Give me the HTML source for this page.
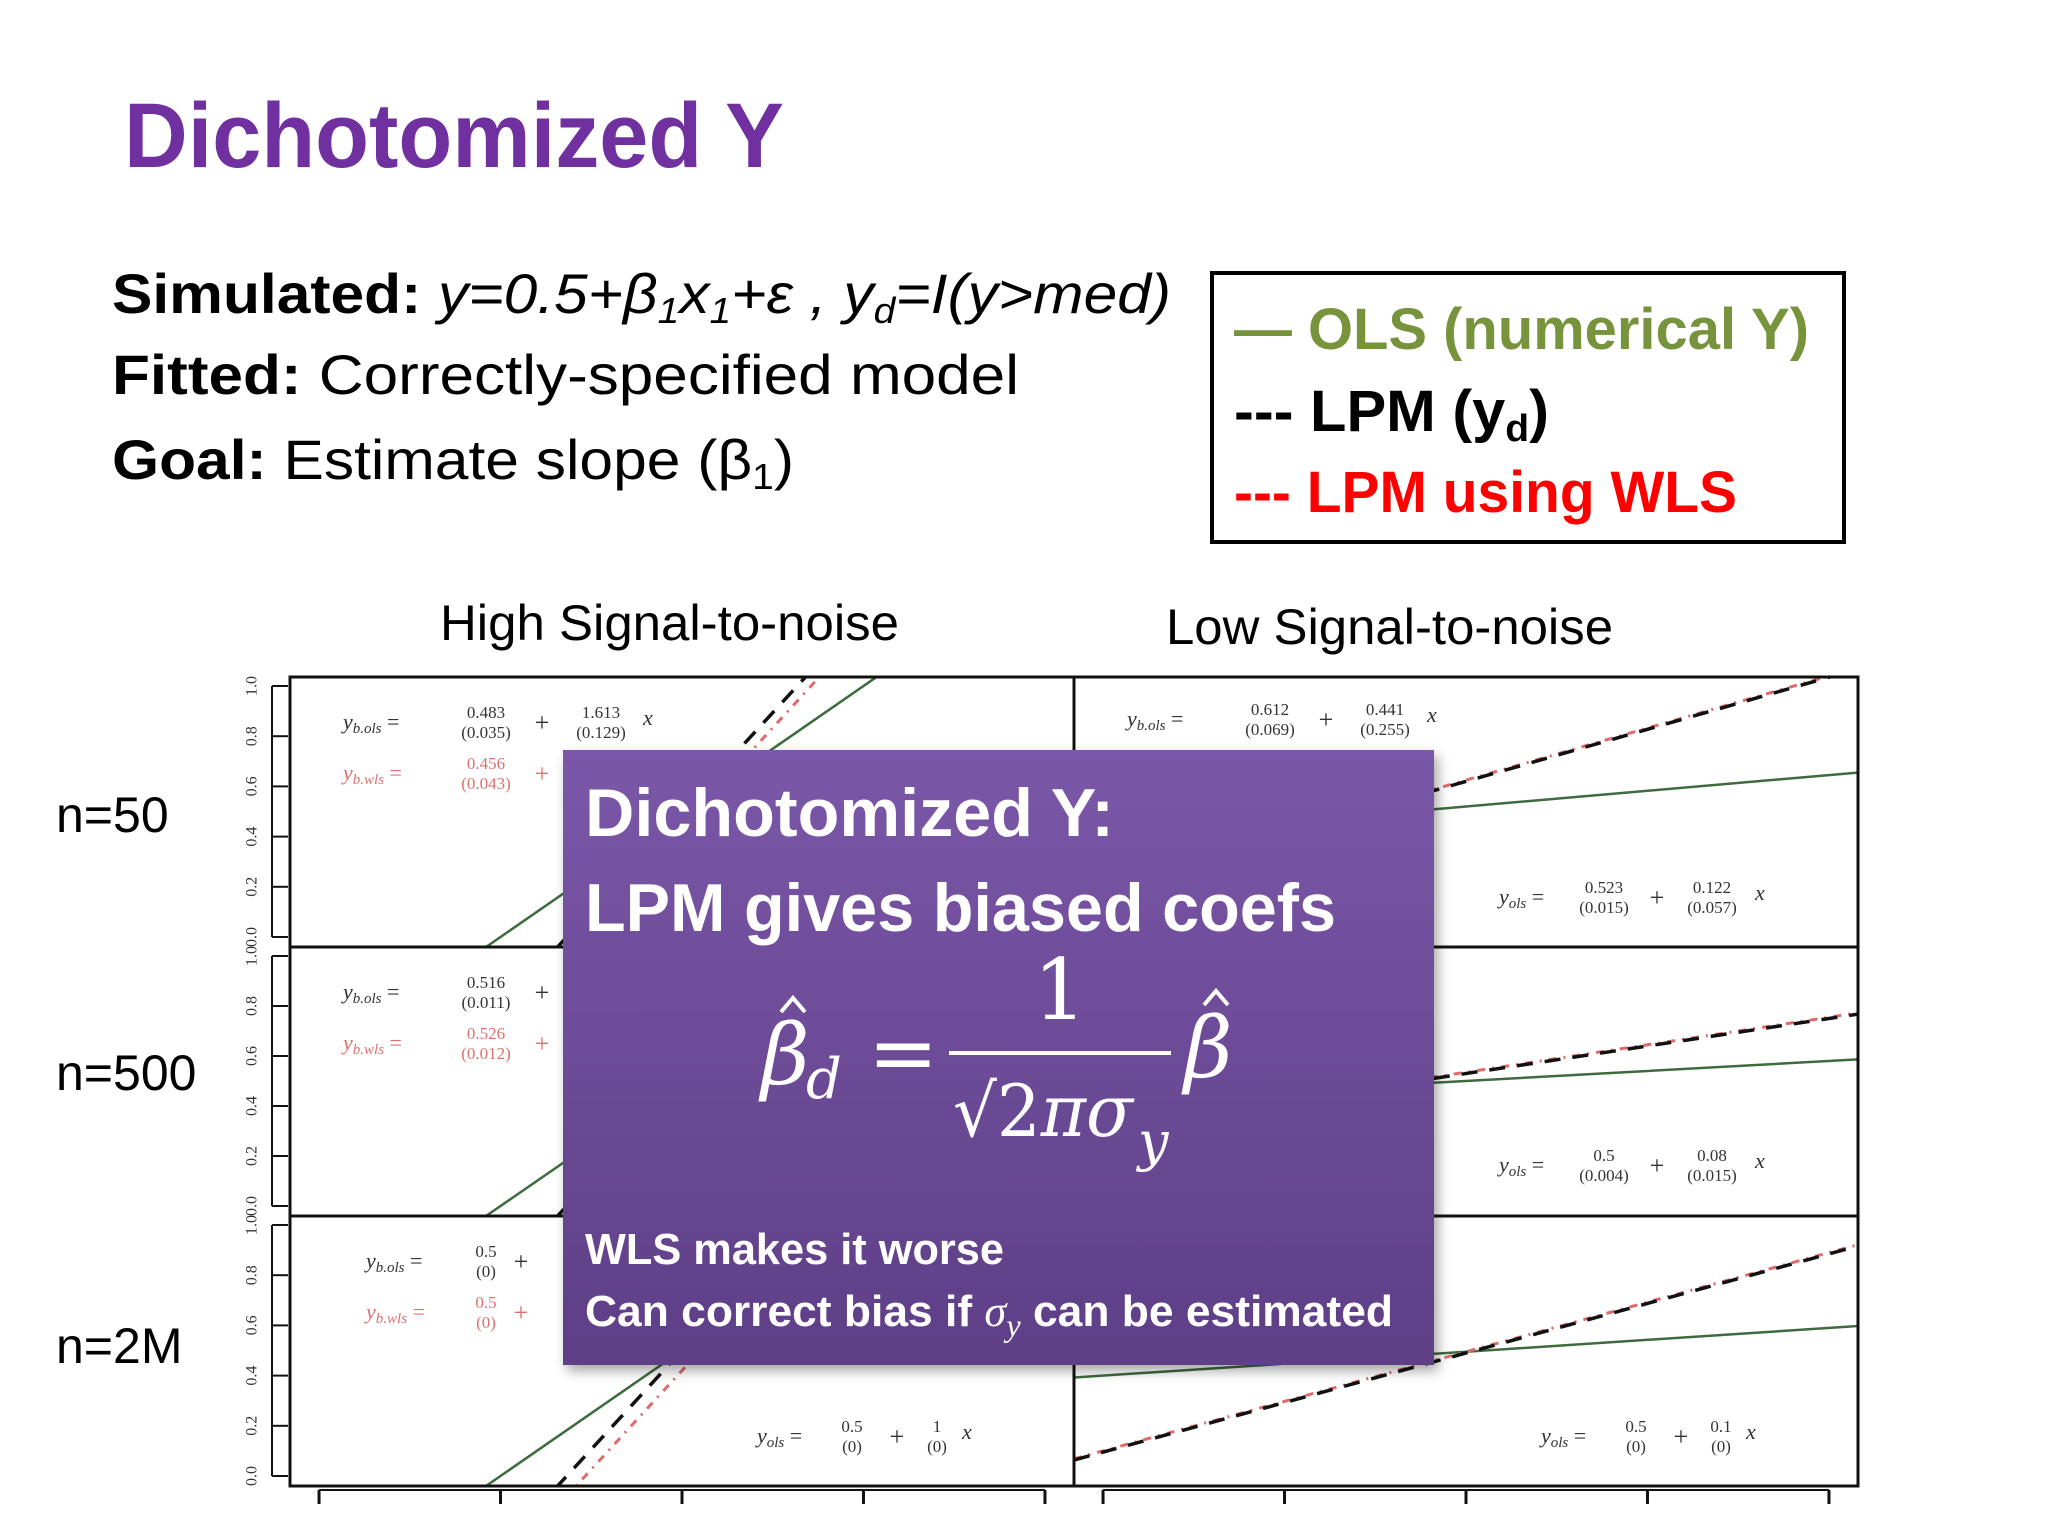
<!DOCTYPE html>
<html><head><meta charset="utf-8"><style>
html,body{margin:0;padding:0;background:#fff;width:2048px;height:1536px;overflow:hidden;}
svg{display:block;}
</style></head><body>
<svg id="s" width="2048" height="1536" viewBox="0 0 2048 1536" xmlns="http://www.w3.org/2000/svg">
<defs>
<linearGradient id="pg" x1="0" y1="0" x2="0" y2="1"><stop offset="0" stop-color="#7b57a8"/><stop offset="1" stop-color="#5e3f86"/></linearGradient>
<filter id="sh" x="-5%" y="-5%" width="115%" height="115%"><feDropShadow dx="4" dy="6" stdDeviation="6" flood-color="#000" flood-opacity="0.35"/></filter>
</defs>
<rect width="2048" height="1536" fill="#fff"/>
<text x="124" y="167" font-family="Liberation Sans, sans-serif" font-weight="bold" font-size="92" fill="#7030a0" textLength="660" lengthAdjust="spacingAndGlyphs">Dichotomized Y</text>
<g font-family="Liberation Sans, sans-serif" font-size="56" fill="#000">
<text x="112" y="313" textLength="1059" lengthAdjust="spacingAndGlyphs"><tspan font-weight="bold">Simulated: </tspan><tspan font-style="italic">y=0.5+β<tspan font-size="36" dy="10">1</tspan><tspan dy="-10">x</tspan><tspan font-size="36" dy="10">1</tspan><tspan dy="-10">+ε , y</tspan><tspan font-size="36" dy="10">d</tspan><tspan dy="-10">=I(y&gt;med)</tspan></tspan></text>
<text x="112" y="394" textLength="907" lengthAdjust="spacingAndGlyphs"><tspan font-weight="bold">Fitted: </tspan>Correctly-specified model</text>
<text x="112" y="479" textLength="682" lengthAdjust="spacingAndGlyphs"><tspan font-weight="bold">Goal: </tspan>Estimate slope (β<tspan font-size="36" dy="10">1</tspan><tspan dy="-10">)</tspan></text>
</g>
<g>
<rect x="1212" y="273" width="632" height="269" fill="#fff" stroke="#000" stroke-width="4"/>
<g font-family="Liberation Sans, sans-serif" font-weight="bold" font-size="58">
<text x="1234" y="349" fill="#77933c" textLength="575" lengthAdjust="spacingAndGlyphs">— OLS (numerical Y)</text>
<text x="1234" y="431" fill="#000" textLength="315" lengthAdjust="spacingAndGlyphs">--- LPM (y<tspan font-size="38" dy="10">d</tspan><tspan dy="-10">)</tspan></text>
<text x="1234" y="512" fill="#ff0000" textLength="503" lengthAdjust="spacingAndGlyphs">--- LPM using WLS</text>
</g></g>
<g font-family="Liberation Sans, sans-serif" font-size="50" fill="#000">
<text x="440" y="640" textLength="459" lengthAdjust="spacingAndGlyphs">High Signal-to-noise</text>
<text x="1166" y="644" textLength="447" lengthAdjust="spacingAndGlyphs">Low Signal-to-noise</text>
<text x="56" y="832">n=50</text>
<text x="56" y="1090">n=500</text>
<text x="56" y="1363">n=2M</text>
</g>
<g id="chart"></g>
<g>
<rect x="563" y="750" width="871" height="615" fill="url(#pg)" filter="url(#sh)"/>
<g font-family="Liberation Sans, sans-serif" font-weight="bold" fill="#fff">
<text x="585" y="836" font-size="68" textLength="529" lengthAdjust="spacingAndGlyphs">Dichotomized Y:</text>
<text x="585" y="931" font-size="68" textLength="751" lengthAdjust="spacingAndGlyphs">LPM gives biased coefs</text>
<text x="585" y="1264" font-size="44" textLength="419" lengthAdjust="spacingAndGlyphs">WLS makes it worse</text>
<text x="585" y="1326" font-size="44" textLength="808" lengthAdjust="spacingAndGlyphs">Can correct bias if <tspan font-family="Liberation Serif, serif" font-style="italic" font-weight="normal">σ</tspan><tspan font-family="Liberation Serif, serif" font-style="italic" font-weight="normal" font-size="32" dy="10">y</tspan><tspan dy="-10"> can be estimated</tspan></text>
</g>
<g font-family="DejaVu Serif, Liberation Serif, serif" font-style="italic" fill="#fff" font-weight="normal">
<text x="761" y="1084" font-size="84">β</text>
<polyline points="781,1012 793,998 805,1012" fill="none" stroke="#fff" stroke-width="4"/>
<text x="806" y="1098" font-size="56">d</text>
<text x="868" y="1082" font-size="84" font-style="normal">=</text>
<text x="1060" y="1019" font-size="84" font-style="normal" text-anchor="middle">1</text>
<rect x="949" y="1051" width="222" height="4" fill="#fff"/>
<text x="953" y="1136" font-size="72" font-style="normal" textLength="180" lengthAdjust="spacingAndGlyphs">√2<tspan font-style="italic">πσ</tspan></text>
<text x="1138" y="1160" font-size="54">y</text>
<text x="1184" y="1077" font-size="84">β</text>
<polyline points="1204,1005 1216,991 1228,1005" fill="none" stroke="#fff" stroke-width="4"/>
</g>
</g>
</svg>
<script>
const NS='http://www.w3.org/2000/svg';
const rowNames=['n50','n500','n2m'];
const yTicks=[0,0.2,0.4,0.6,0.8,1.0];
const yTickLabels=['0.0','0.2','0.4','0.6','0.8','1.0'];
const xTicks=[0,0.25,0.5,0.75,1];
const highOlsAt05=[0.5,0.5,0.5];
const highOlsSlope=[2.0,2.0,2.0];
const highLpmAt05=[0.5,0.5,0.5];
const highLpmSlope=[3.15,3.15,3.15];
const highWlsAt05=[0.44,0.44,0.42];
const highWlsSlope=[3.15,3.15,3.15];
const lowOlsAt05=[0.52,0.50,0.495];
const lowOlsSlope=[0.25,0.16,0.19];
const lowLpmAt05=[0.62,0.53,0.49];
const lowLpmSlope=[0.83,0.44,0.79];
const lowWlsAt05=[0.625,0.535,0.495];
const lowWlsSlope=[0.83,0.44,0.79];

const cols=[[290,1074],[1074,1858]];
const rows=[[677,947],[947,1216],[1216,1486]];
const xDom=[-0.04,1.04];
const chart=document.getElementById('chart');
function mk(tag,attrs,parent){const e=document.createElementNS(NS,tag);for(const k in attrs)e.setAttribute(k,attrs[k]);(parent||chart).appendChild(e);return e;}
function xs(c,v){return cols[c][0]+(v-xDom[0])/(xDom[1]-xDom[0])*(cols[c][1]-cols[c][0]);}
function ys(r,v){const y1=rows[r][0]+9,y0=rows[r][1]-10;return y0+(y1-y0)*v;}

const defs=document.querySelector('defs');
for(let c=0;c<2;c++)for(let r=0;r<3;r++){
  const cp=mk('clipPath',{id:'cp'+c+r},defs);
  mk('rect',{x:cols[c][0],y:rows[r][0],width:cols[c][1]-cols[c][0],height:rows[r][1]-rows[r][0]},cp);
}
function line(c,r,at05,slope,stroke,dash,w,name){
  const f=v=>at05+slope*(v-0.5);
  const l=mk('line',{x1:xs(c,xDom[0]),y1:ys(r,f(xDom[0])),x2:xs(c,xDom[1]),y2:ys(r,f(xDom[1])),stroke:stroke,'stroke-width':w,'clip-path':'url(#cp'+c+r+')'});
  if(dash)l.setAttribute('stroke-dasharray',dash);
  
  
}
for(let r=0;r<3;r++){
  line(0,r,highOlsAt05[r],highOlsSlope[r],'#3d6b3d',null,2.5,'high-ols-line-'+rowNames[r]);
  line(0,r,highWlsAt05[r],highWlsSlope[r],'#e06a6a','8,7,2,7',3,'high-wls-line-'+rowNames[r]);
  line(0,r,highLpmAt05[r],highLpmSlope[r],'#111','16,12',3.5,'high-lpm-line-'+rowNames[r]);
  line(1,r,lowOlsAt05[r],lowOlsSlope[r],'#3d6b3d',null,2.5,'low-ols-line-'+rowNames[r]);
  line(1,r,lowWlsAt05[r],lowWlsSlope[r],'#e06a6a','8,7,2,7',3,'low-wls-line-'+rowNames[r]);
  line(1,r,lowLpmAt05[r],lowLpmSlope[r],'#111','16,12',3.5,'low-lpm-line-'+rowNames[r]);
}
for(let c=0;c<2;c++)for(let r=0;r<3;r++){
  const b=mk('rect',{x:cols[c][0],y:rows[r][0],width:cols[c][1]-cols[c][0],height:rows[r][1]-rows[r][0],fill:'none',stroke:'#111','stroke-width':3});
  
  
}
for(let r=0;r<3;r++){
  const ax=mk('line',{x1:272,y1:ys(r,0),x2:272,y2:ys(r,1),stroke:'#111','stroke-width':2});
  
  
  yTicks.forEach((t,i)=>{
    const y=ys(r,t);
    mk('line',{x1:272,y1:y,x2:288,y2:y,stroke:'#111','stroke-width':2});
    const tx=mk('text',{x:253,y:y,'font-family':'Liberation Serif, serif','font-size':16,fill:'#333','text-anchor':'middle','dominant-baseline':'middle',transform:'rotate(-90 253 '+y+')'});
    tx.textContent=yTickLabels[i];
    
    
  });
}
for(let c=0;c<2;c++){
  const ax=mk('line',{x1:xs(c,0),y1:1490,x2:xs(c,1),y2:1490,stroke:'#111','stroke-width':2});
  
  
  xTicks.forEach(t=>{mk('line',{x1:xs(c,t),y1:1490,x2:xs(c,t),y2:1504,stroke:'#111','stroke-width':3});});
}
function eq(x,y,color,lhs,sub,f1,f2,o){
  const g=mk('g',{fill:color,'font-family':'Liberation Serif, serif'});
  
  
  const t=mk('text',{x:x,y:y+7,'font-size':22,'font-style':'italic'},g);
  t.innerHTML=lhs+'<tspan font-size="15" dy="4">'+sub+'</tspan><tspan dy="-4" font-style="normal"> =</tspan>';
  const fr=(cx,a,b)=>{const n=mk('text',{x:cx,y:y-4,'font-size':17,'text-anchor':'middle'},g);n.textContent=a;const d=mk('text',{x:cx,y:y+16,'font-size':17,'text-anchor':'middle'},g);d.textContent=b;};
  fr(x+o[0],f1[0],f1[1]);
  const p=mk('text',{x:x+o[1],y:y+9,'font-size':26,'text-anchor':'middle'},g);p.textContent='+';
  if(f2){fr(x+o[2],f2[0],f2[1]);const xx=mk('text',{x:x+o[3],y:y+3,'font-size':22,'font-style':'italic'},g);xx.textContent='x';}
}
const oB=[143,199,258,300], oS=[105,158,213,256], oT=[95,140,180,205];
eq(343,722,'#333','y','b.ols',['0.483','(0.035)'],['1.613','(0.129)'],oB);
eq(343,773,'#e07070','y','b.wls',['0.456','(0.043)'],null,oB);
eq(343,992,'#333','y','b.ols',['0.516','(0.011)'],null,oB);
eq(343,1043,'#e07070','y','b.wls',['0.526','(0.012)'],null,oB);
eq(366,1261,'#333','y','b.ols',['0.5','(0)'],null,[120,155]);
eq(366,1312,'#e07070','y','b.wls',['0.5','(0)'],null,[120,155]);
eq(757,1436,'#333','y','ols',['0.5','(0)'],['1','(0)'],oT);
eq(1127,719,'#333','y','b.ols',['0.612','(0.069)'],['0.441','(0.255)'],oB);
eq(1499,897,'#333','y','ols',['0.523','(0.015)'],['0.122','(0.057)'],oS);
eq(1499,1165,'#333','y','ols',['0.5','(0.004)'],['0.08','(0.015)'],oS);
eq(1541,1436,'#333','y','ols',['0.5','(0)'],['0.1','(0)'],oT);
</script>
</body></html>
